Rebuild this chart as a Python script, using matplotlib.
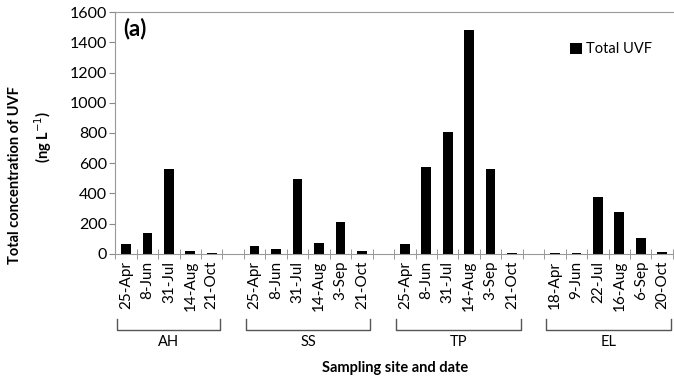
import matplotlib.pyplot as plt
import numpy as np

plt.rcParams['font.family'] = ['Lato', 'DejaVu Sans']

sites = ['AH', 'SS', 'TP', 'EL']
dates = [
    ['25-Apr', '8-Jun', '31-Jul', '14-Aug', '21-Oct'],
    ['25-Apr', '8-Jun', '31-Jul', '14-Aug', '3-Sep', '21-Oct'],
    ['25-Apr', '8-Jun', '31-Jul', '14-Aug', '3-Sep', '21-Oct'],
    ['18-Apr', '9-Jun', '22-Jul', '16-Aug', '6-Sep', '20-Oct'],
]
ah = [66, 139, 562, 20, 8]
ss = [50, 33, 497, 73, 212, 20]
tp = [66, 576, 808, 1485, 562, 7]
el = [5, 5, 377, 278, 106, 10]
values = [ah, ss, tp, el]

# x positions: one empty slot between sites
xpos, xlab, yval, spans = [], [], [], []
start = 0
for d, v in zip(dates, values):
    n = len(d)
    xpos += list(range(start, start + n))
    xlab += d
    yval += v
    spans.append((start, start + n - 1))
    start += n + 1
nslots = start - 1

fig = plt.figure(figsize=(6.74, 3.80), dpi=100)
ax = fig.add_axes([0.171, 0.332, 0.829, 0.636])

ax.bar(xpos, yval, width=0.45, color='black', label='Total UVF')

ax.set_xlim(-0.5, nslots - 0.45)
ax.set_ylim(0, 1600)
ax.set_yticks(np.arange(0, 1601, 200))
ax.tick_params(axis='y', labelsize=11.5, direction='out', length=4, color='#888888', pad=2)
ax.set_xticks(xpos)
ax.set_xticklabels(xlab, rotation=90, fontsize=11)
ax.tick_params(axis='x', length=0, pad=5)
ax.set_xticks(np.arange(-0.5, nslots, 1), minor=True)
ax.tick_params(axis='x', which='minor', direction='inout', length=7, color='#888888')

ax.spines['right'].set_visible(False)
for s in ['left', 'bottom', 'top']:
    ax.spines[s].set_color('#999999')

ax.text(0.015, 0.905, '(a)', transform=ax.transAxes, fontsize=16, fontweight='bold')
ax.legend(loc='upper right', bbox_to_anchor=(0.985, 0.93), frameon=False, fontsize=10.5,
          handlelength=0.8, handleheight=0.8, handletextpad=0.3)

# two-line y label, placed as in the original
fig.text(15 / 674, 1 - 175 / 380, 'Total concentration of UVF', rotation=90, ha='center',
         va='center', fontsize=10.5, fontweight='bold')
fig.text(43 / 674, 1 - 137 / 380, '(ng L$^{-1}$)', rotation=90, ha='center',
         va='center', fontsize=10.5, fontweight='bold')
ax.set_xlabel('Sampling site and date', fontsize=10.5, fontweight='bold', labelpad=36)

# group brackets
trans = ax.get_xaxis_transform()
yb = -0.315
for (a, b), name in zip(spans, sites):
    x0, x1 = a - 0.4, b + 0.4
    ax.plot([x0, x0, x1, x1], [yb + 0.045, yb, yb, yb + 0.045], transform=trans,
            color='#555555', lw=1, clip_on=False)
    ax.text((x0 + x1) / 2, yb - 0.022, name, transform=trans, ha='center', va='top', fontsize=10.5)

plt.savefig('out.png', dpi=100)
